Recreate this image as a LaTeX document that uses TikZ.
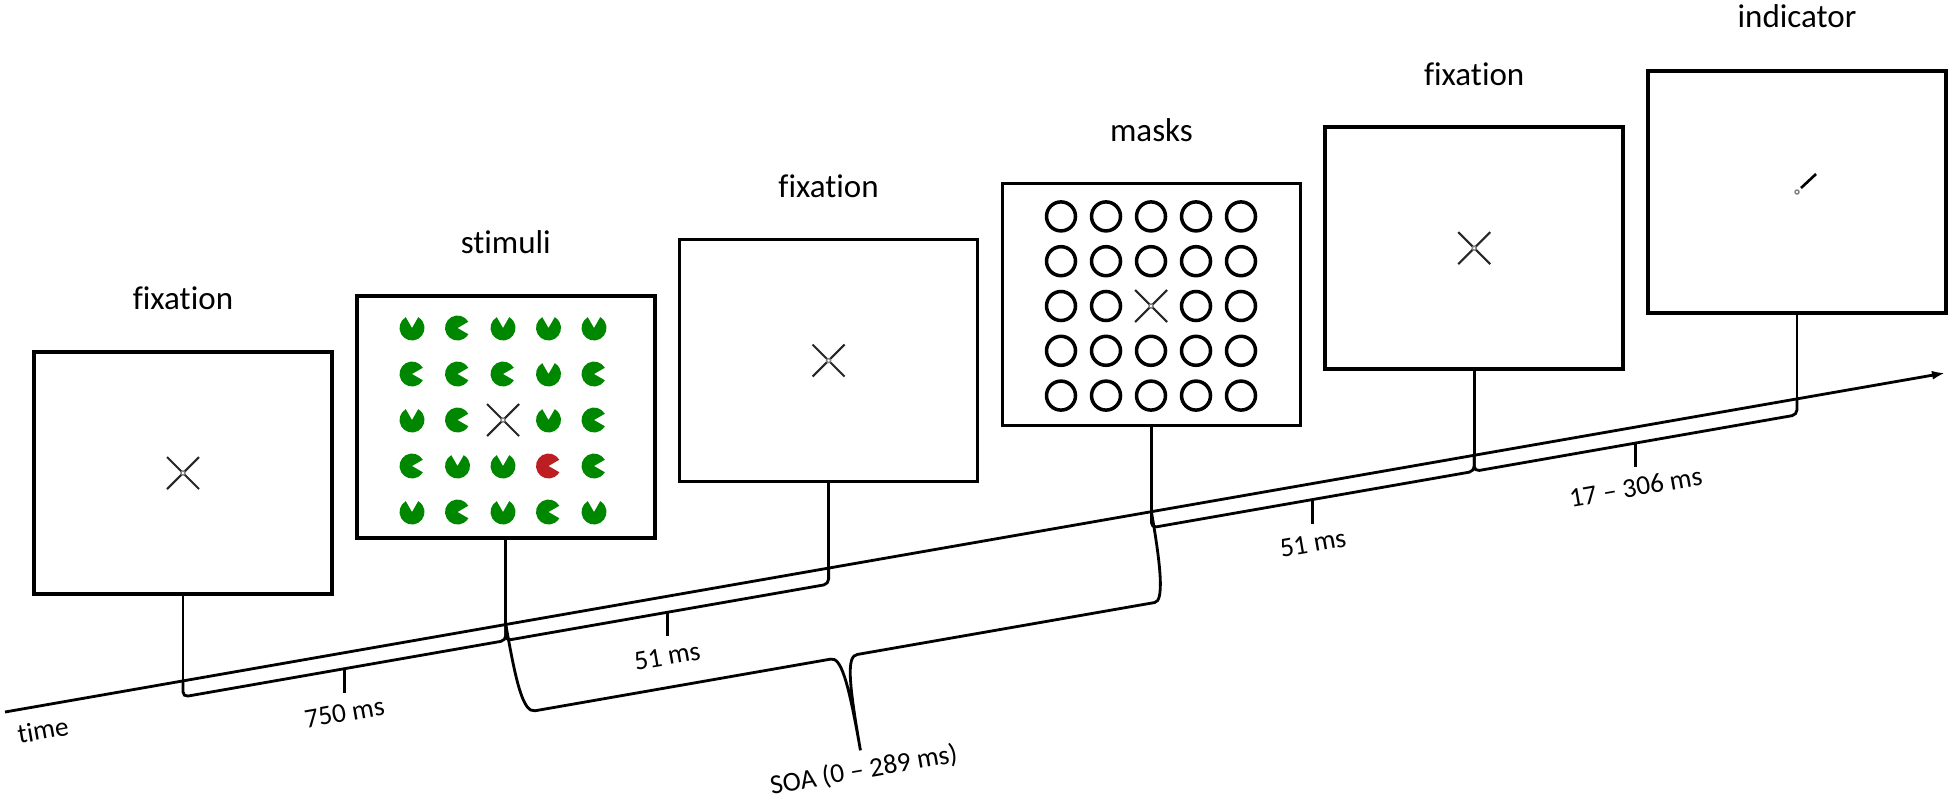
\documentclass[tikz,border=0pt]{standalone}
\usepackage{fontspec}
\setmainfont{Carlito}[Ligatures={NoCommon}]
\usetikzlibrary{calc,arrows.meta}

\definecolor{pacgreen}{RGB}{0,135,0}
\definecolor{pacred}{RGB}{188,30,34}

\tikzset{
  screen/.style={draw, line width=1pt, minimum width=29.8mm, minimum height=24.2mm, inner sep=0pt},
  title/.style={font=\fontsize{9.4}{11}\selectfont, anchor=base, inner sep=0pt},
  timing/.style={font=\fontsize{7.8}{9}\selectfont, rotate=9.9, inner sep=0pt},
  tline/.style={line width=0.8pt},
  crossline/.style={line width=0.6pt, black!85},
  ring/.style={line width=1pt},
}

% fixation cross
\newcommand{\fixcross}[1]{%
  \draw[crossline] ($(#1)+(-16,-16)$) -- ($(#1)+(16,16)$);
  \draw[crossline] ($(#1)+(-16,16)$) -- ($(#1)+(16,-16)$);
  \filldraw[fill=white, draw=gray, line width=0.4pt] (#1) circle (2);
}

\begin{document}
\begin{tikzpicture}[x=0.1mm, y=0.1mm]
\useasboundingbox (0,0) rectangle (1950,-796);
% screens
\node[screen] (b1) at (183,-473)      {};
\node[screen] (b2) at (505.8,-416.8)  {};
\node[screen] (b3) at (828.6,-360.6)  {};
\node[screen] (b4) at (1151.4,-304.4) {};
\node[screen] (b5) at (1474.2,-248.2) {};
\node[screen] (b6) at (1797,-192)     {};
% titles
\node[title] (n1) at (183,-309)    {fixation};
\node[title] (n2) at (505.8,-253)  {stimuli};
\node[title] (n3) at (828.6,-197)  {fixation};
\node[title] (n4) at (1151.4,-141) {masks};
\node[title] (n5) at (1474.2,-85)  {fixation};
\node[title] (n6) at (1797,-28)    {indicator};
% screen contents
\fixcross{b1}
\fixcross{b3}
\fixcross{b5}
\coordinate (c2) at (503,-420);
\coordinate (c4) at (1151,-306);
\foreach \r/\angs in {0/{90,0,90,90,90}, 1/{0,0,0,90,0}, 2/{90,0,-1,90,0}, 3/{0,90,90,360,0}, 4/{90,0,90,0,90}}
  \foreach \a [count=\c from 0] in \angs {
    \ifnum\a<0\relax\else
      \ifnum\a=360 \def\pc{pacred}\else\def\pc{pacgreen}\fi
      \fill[fill=\pc] ($(c2)+(\c*45.5-91,-\r*46+92)$) -- ++(\a+30:12.5)
        arc[start angle=\a+30, delta angle=300, radius=12.5] -- cycle;
    \fi
  }
\fixcross{c2}
\foreach \c in {0,...,4}
  \foreach \r in {0,...,4} {
    \ifnum\numexpr\c*10+\r\relax=22 \else
      \draw[ring] ($(c4)+(\c*45-90,-\r*44.8+89.6)$) circle (14.5);
    \fi
  }
\fixcross{c4}
\filldraw[fill=white, draw=gray, line width=0.4pt] (b6.center) circle (2);
\draw[line width=0.75pt] ($(b6.center)+(4,4)$) -- ($(b6.center)+(19,18)$);
% time line
\coordinate (tl0) at (5,-712);
\coordinate (tl1) at (1945,-373);
\coordinate (t1) at (183,-680.9);
\coordinate (t2) at (505.8,-624.5);
\coordinate (t3) at (828.6,-568.1);
\coordinate (t4) at (1151.4,-511.7);
\coordinate (t5) at (1474.2,-455.3);
\coordinate (t6) at (1797,-398.8);
\draw[tline, -{Latex[length=1.3mm, width=0.9mm]}] (tl0) -- (tl1);
\node[timing] (tm) at (43,-730) {time};
\draw[tline] (b1.south) -- (t1);
\draw[tline] (b2.south) -- (t2);
\draw[tline] (b3.south) -- (t3);
\draw[tline] (b4.south) -- (t4);
\draw[tline] (b5.south) -- (t5);
\draw[tline] (b6.south) -- (t6);
% durations
\draw[tline, rounded corners=0.5mm] (t1) -- ++(0,-16) -- ($(t2)+(0,-16)$) -- (t2);
\draw[tline] ($(t1)!0.5!(t2)+(0,-16)$) -- ++(0,-24);
\node[timing] (d1) at ($(t1)!0.5!(t2)+(0,-60)$) {750 ms};
\draw[tline, rounded corners=0.5mm] (t2) -- ++(0,-16) -- ($(t3)+(0,-16)$) -- (t3);
\draw[tline] ($(t2)!0.5!(t3)+(0,-16)$) -- ++(0,-24);
\node[timing] (d2) at ($(t2)!0.5!(t3)+(0,-60)$) {51 ms};
\draw[tline, rounded corners=0.5mm] (t4) -- ++(0,-16) -- ($(t5)+(0,-16)$) -- (t5);
\draw[tline] ($(t4)!0.5!(t5)+(0,-16)$) -- ++(0,-24);
\node[timing] (d3) at ($(t4)!0.5!(t5)+(0,-60)$) {51 ms};
\draw[tline, rounded corners=0.5mm] (t5) -- ++(0,-16) -- ($(t6)+(0,-16)$) -- (t6);
\draw[tline] ($(t5)!0.5!(t6)+(0,-16)$) -- ++(0,-24);
\node[timing] (d4) at ($(t5)!0.5!(t6)+(0,-60)$) {17 – 306 ms};
% SOA
\begin{scope}[shift={(t2)}, rotate=9.91]
\draw[tline] (t2) .. controls (0,-60) and (2,-90) .. (14,-90) -- (314,-90)
  .. controls (324,-90) and (327.7,-110) .. (327.7,-185)
  .. controls (327.7,-110) and (331,-90) .. (341,-90) -- (643,-90)
  .. controls (652,-90) and (655.4,-60) .. (t4);
\node[timing] (soa) at (327.7,-205) {SOA (0 – 289 ms)};
\end{scope}
\end{tikzpicture}
\end{document}
